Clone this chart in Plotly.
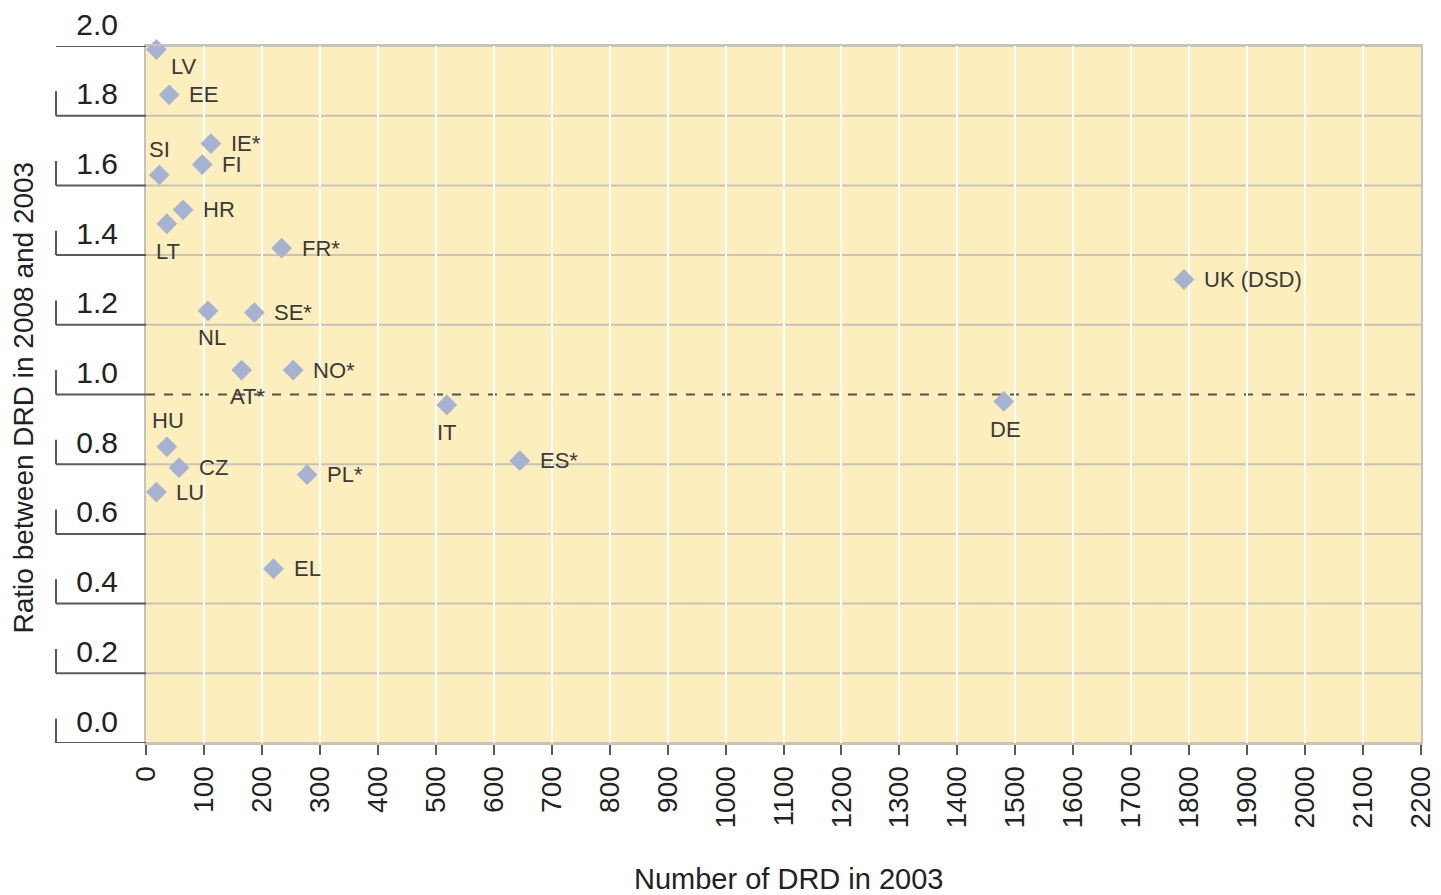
import plotly.graph_objects as go

# ---- data ----
countries = ["LV", "EE", "IE*", "FI", "SI", "HR", "LT", "FR*", "UK (DSD)", "NL", "SE*",
             "AT*", "NO*", "IT", "DE", "HU", "CZ", "ES*", "PL*", "LU", "EL"]
drd_2003 = [18, 40, 112, 97, 23, 64, 36, 234, 1791, 107, 187,
            165, 254, 519, 1480, 36, 57, 645, 278, 18, 220]
ratio_2008_2003 = [1.99, 1.86, 1.72, 1.66, 1.63, 1.53, 1.49, 1.42, 1.33, 1.24, 1.235,
                   1.07, 1.07, 0.97, 0.98, 0.85, 0.79, 0.81, 0.77, 0.72, 0.50]
x_ticks = list(range(0, 2201, 100))
y_ticks = [0.0, 0.2, 0.4, 0.6, 0.8, 1.0, 1.2, 1.4, 1.6, 1.8, 2.0]
y_tick_labels = [f"{v:.1f}" for v in y_ticks]
reference_ratio = 1.0

# ---- label placement (style) ----
RIGHT = ("left", 18, 0)
placement = {
    "LV": ("center", 28, -17), "SI": ("center", 0, 25), "LT": ("center", 1, -28),
    "NL": ("center", 4, -27), "AT*": ("center", 6, -26), "IT": ("center", 0, -28),
    "DE": ("center", 2, -28), "HU": ("center", 1, 26),
}

FONT = "Liberation Sans, Arial, sans-serif"
fig = go.Figure()

fig.add_trace(go.Scatter(
    x=drd_2003, y=ratio_2008_2003, mode="markers",
    marker=dict(symbol="diamond", size=16, color="#a5b3d1", line=dict(width=0)),
    hoverinfo="text", text=countries, showlegend=False, cliponaxis=False,
))

annotations = []
for c, xv, yv in zip(countries, drd_2003, ratio_2008_2003):
    anchor, dx, dy = placement.get(c, RIGHT)
    annotations.append(dict(
        x=xv, y=yv, xref="x", yref="y", text=c, showarrow=False,
        xanchor=anchor, yanchor="middle", xshift=dx, yshift=dy,
        font=dict(family=FONT, size=22, color="#3a3a3a"),
    ))

# axis titles
annotations.append(dict(
    x=0.504, y=-0.195, xref="paper", yref="paper", text="Number of DRD in 2003",
    showarrow=False, xanchor="center", yanchor="middle",
    font=dict(family=FONT, size=29, color="#222")))
annotations.append(dict(
    x=-0.0957, y=0.4957, xref="paper", yref="paper",
    text="Ratio between DRD in 2008 and 2003", textangle=-90,
    showarrow=False, xanchor="center", yanchor="middle",
    font=dict(family=FONT, size=28, color="#222")))

shapes = []
ext_x0 = -(146 - 56) / 1275.0
for v in y_ticks:
    # gridline inside the plot (skip the reference line, drawn dashed)
    if v != reference_ratio:
        shapes.append(dict(type="line", xref="paper", yref="y", x0=0, x1=1, y0=v, y1=v,
                           line=dict(color="#c6c3bb", width=2), layer="below"))
    # bracket extension to the left
    shapes.append(dict(type="line", xref="paper", yref="y", x0=ext_x0, x1=0, y0=v, y1=v,
                       line=dict(color="#5a5a5a", width=2)))
    shapes.append(dict(type="line", xref="paper", yref="y", x0=ext_x0, x1=ext_x0,
                       y0=v, y1=v + 0.07, line=dict(color="#5a5a5a", width=2)))

shapes.append(dict(type="line", xref="paper", yref="y", x0=0, x1=1,
                   y0=reference_ratio, y1=reference_ratio,
                   line=dict(color="#555555", width=2, dash="dash"), layer="below"))

fig.update_layout(
    width=1433, height=887,
    margin=dict(l=138, r=20, t=38, b=152),
    paper_bgcolor="white", plot_bgcolor="#fdeebd",
    annotations=annotations, shapes=shapes,
    xaxis=dict(
        range=[0, 2200], tickvals=x_ticks, ticktext=[str(t) for t in x_ticks],
        tickangle=-90, ticks="outside", ticklen=10, tickwidth=2, tickcolor="#5a5a5a",
        showgrid=True, gridcolor="white", gridwidth=1.5, zeroline=False,
        showline=True, linecolor="#c6c3bb", linewidth=2, mirror=True,
        tickfont=dict(family=FONT, size=28, color="#222"), automargin=False,
        ticklabeloverflow="allow",
    ),
    yaxis=dict(
        range=[0, 2.0], tickvals=y_ticks, ticktext=y_tick_labels,
        ticks="", showgrid=False, zeroline=False,
        showline=True, linecolor="#c6c3bb", linewidth=2, mirror=True,
        ticklabelstandoff=20, ticklabelshift=-22,
        tickfont=dict(family=FONT, size=30, color="#222"), automargin=False,
        ticklabeloverflow="allow",
    ),
)

fig.write_html("out.html")
